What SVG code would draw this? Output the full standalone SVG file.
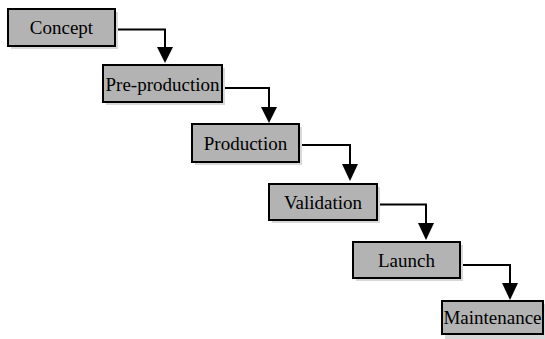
<svg xmlns="http://www.w3.org/2000/svg" width="545" height="339" viewBox="0 0 545 339">
<style>
.sh{fill:#d8d8d8}
.box{fill:#b3b3b3;stroke:#000;stroke-width:2}
.t{font-family:"Liberation Serif","Times New Roman",serif;font-size:19px;fill:#000;text-anchor:middle}
.c{fill:none;stroke:#000;stroke-width:2}
.ah{fill:#000}
</style>
<rect width="545" height="339" fill="#fff"/>
<g id="connectors">
<polyline class="c" points="115,29.5 165,29.5 165,50"/>
<polygon class="ah" points="157,47 173,47 165,63"/>
<polyline class="c" points="222,88 269,88 269,110"/>
<polygon class="ah" points="261,107 277,107 269,123"/>
<polyline class="c" points="299,145 350,145 350,167"/>
<polygon class="ah" points="342,164 358,164 350,181"/>
<polyline class="c" points="377,204.5 426,204.5 426,226"/>
<polygon class="ah" points="418,223 434,223 426,240"/>
<polyline class="c" points="460,265 510,265 510,286"/>
<polygon class="ah" points="502,283 518,283 510,300"/>
</g>
<g id="concept">
<rect class="sh" x="11" y="12" width="107" height="37"/>
<rect class="box" x="8" y="9" width="107" height="37"/>
<text class="t" x="61.5" y="34">Concept</text>
</g>
<g id="preproduction">
<rect class="sh" x="106" y="68" width="119" height="37"/>
<rect class="box" x="103" y="65" width="119" height="37"/>
<text class="t" x="162.5" y="91">Pre-production</text>
</g>
<g id="production">
<rect class="sh" x="195" y="127" width="107" height="38"/>
<rect class="box" x="192" y="124" width="107" height="38"/>
<text class="t" x="245.5" y="149.5">Production</text>
</g>
<g id="validation">
<rect class="sh" x="272" y="187" width="108" height="36"/>
<rect class="box" x="269" y="184" width="108" height="36"/>
<text class="t" x="323" y="209">Validation</text>
</g>
<g id="launch">
<rect class="sh" x="356" y="245" width="107" height="36"/>
<rect class="box" x="353" y="242" width="107" height="36"/>
<text class="t" x="406.5" y="266.5">Launch</text>
</g>
<g id="maintenance">
<rect class="sh" x="445" y="304" width="100" height="35"/>
<rect class="box" x="442" y="301" width="101" height="33"/>
<text class="t" x="492.5" y="324">Maintenance</text>
</g>
</svg>
